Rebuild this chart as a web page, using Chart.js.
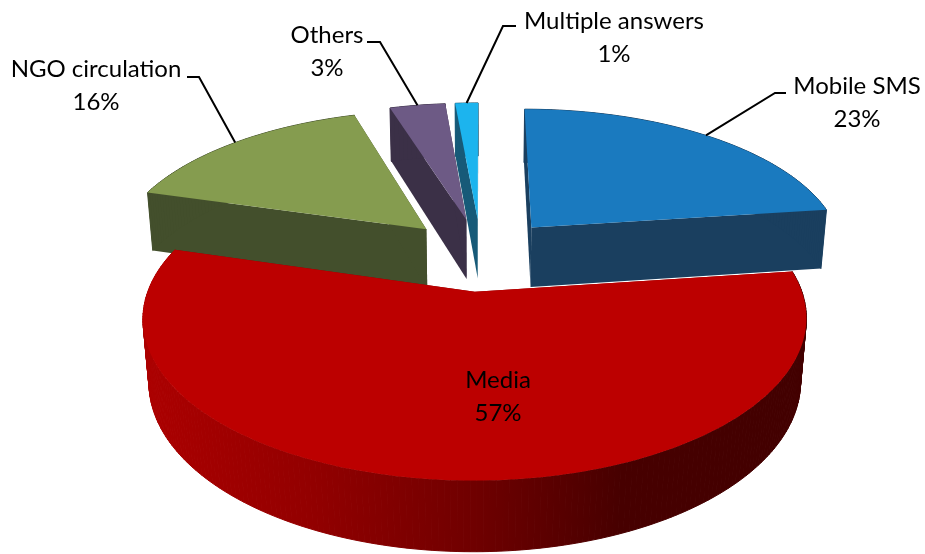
<!DOCTYPE html>
<html lang="en">
<head>
  <meta charset="UTF-8">
  <title>Pie chart</title>
  <script src="https://cdn.jsdelivr.net/npm/chart.js"></script>
  <style>
    body { margin: 0; background: #fff; }
    canvas { display: block; }
  </style>
</head>
<body>
  <canvas id="pie" width="925" height="554"></canvas>
  <script>
    // data
    const categories = ['Mobile SMS', 'Media', 'NGO circulation', 'Others', 'Multiple answers'];
    const shares = [22.9, 56.6, 15.7, 3.4, 1.4];
    const shareLabels = ['23%', '57%', '16%', '3%', '1%'];

    // styles
    const topColors = ['#1a7abf', '#bc0000', '#859c4f', '#6d5a85', '#1cb4ee'];
    const wallColors = ['#1a3f5f', '#8a0000', '#434f2c', '#3b3047', '#175a78'];
    const drawOrder = [0, 2, 3, 4, 1];

    // camera for the tilted pie: plane units are pie radii
    const cam = { cx: 481, cy: 254, a: 314, b: 145, k: 0.16, h: 62, m: 0.017 };

    // label centres and leader elbows
    const labelPos = [[857, 86], [498, 380], [96, 69], [327, 35], [614, 21]];
    const lineGap = 33;
    const leaders = [
      [[786, 93], [775, 93]],
      null,
      [[187, 77], [199, 77]],
      [[367, 42], [380, 42]],
      [[516, 26], [503, 26]]
    ];

    function project(X, Y, Z) {
      const w = 1 - cam.k * Y + cam.m * Z;
      return [cam.cx + cam.a * X / w, cam.cy + (cam.b * Y + cam.h * Z) / w];
    }

    function polygon(ctx, pts, fill) {
      ctx.beginPath();
      pts.forEach((p, i) => i ? ctx.lineTo(p[0], p[1]) : ctx.moveTo(p[0], p[1]));
      ctx.closePath();
      ctx.fillStyle = fill;
      ctx.fill();
    }

    // turn the arc the library laid out into plane coordinates
    function arcGeometry(arc) {
      const p = arc.getProps(['startAngle', 'endAngle', 'outerRadius'], true);
      const mid = (p.startAngle + p.endAngle) / 2;
      const d = (arc.options.offset / 4) / p.outerRadius;
      const ox = Math.cos(mid) * d;
      const oy = Math.sin(mid) * d;
      const rim = [];
      const steps = Math.max(4, Math.ceil((p.endAngle - p.startAngle) * 60));
      for (let i = 0; i <= steps; i++) {
        const t = p.startAngle + (p.endAngle - p.startAngle) * i / steps;
        rim.push([ox + Math.cos(t), oy + Math.sin(t)]);
      }
      return { ox, oy, rim, mid };
    }

    function mediaWall(ctx) {
      const g = ctx.createLinearGradient(143, 0, 807, 0);
      g.addColorStop(0, '#ac0000');
      g.addColorStop(0.25, '#930000');
      g.addColorStop(0.5, '#6f0000');
      g.addColorStop(0.72, '#470000');
      g.addColorStop(1, '#420000');
      return g;
    }

    const pie3d = {
      id: 'pie3d',
      beforeDatasetsDraw(chart) {
        const ctx = chart.ctx;
        const arcs = chart.getDatasetMeta(0).data;

        drawOrder.forEach(i => {
          const g = arcGeometry(arcs[i]);
          const first = g.rim[0];
          const last = g.rim[g.rim.length - 1];
          const wall = i === 1 ? mediaWall(ctx) : wallColors[i];

          // the two cut faces
          [first, last].forEach(e => {
            polygon(ctx, [project(g.ox, g.oy, 0), project(e[0], e[1], 0),
              project(e[0], e[1], 1), project(g.ox, g.oy, 1)], i === 1 ? '#8a0000' : wall);
          });
          // outer wall, strip by strip because it folds at the sides; stroked to hide seams
          ctx.strokeStyle = wall;
          ctx.lineWidth = 1;
          for (let s = 0; s < g.rim.length - 1; s++) {
            const a = g.rim[s], b = g.rim[s + 1];
            polygon(ctx, [project(a[0], a[1], 0), project(b[0], b[1], 0),
              project(b[0], b[1], 1), project(a[0], a[1], 1)], wall);
            ctx.stroke();
          }
          // top
          const upper = g.rim.map(r => project(r[0], r[1], 0));
          polygon(ctx, [project(g.ox, g.oy, 0)].concat(upper), topColors[i]);
        });

        // leader lines run from the middle of each rim
        ctx.strokeStyle = '#000';
        ctx.lineWidth = 2;
        arcs.forEach((arc, i) => {
          if (!leaders[i]) return;
          const g = arcGeometry(arc);
          const start = project(g.ox + Math.cos(g.mid), g.oy + Math.sin(g.mid), 0);
          ctx.beginPath();
          ctx.moveTo(leaders[i][0][0], leaders[i][0][1]);
          ctx.lineTo(leaders[i][1][0], leaders[i][1][1]);
          ctx.lineTo(start[0], start[1]);
          ctx.stroke();
        });

        ctx.fillStyle = '#000';
        ctx.font = '24px Lato';
        ctx.textAlign = 'center';
        ctx.textBaseline = 'middle';
        categories.forEach((name, i) => {
          ctx.fillText(name, labelPos[i][0], labelPos[i][1]);
          ctx.fillText(shareLabels[i], labelPos[i][0], labelPos[i][1] + lineGap);
        });
        return false;
      }
    };

    new Chart(document.getElementById('pie'), {
      type: 'pie',
      data: {
        labels: categories,
        datasets: [{
          data: shares,
          backgroundColor: topColors,
          borderWidth: 0,
          offset: 185
        }]
      },
      options: {
        responsive: false,
        animation: false,
        plugins: { legend: { display: false }, tooltip: { enabled: false } }
      },
      plugins: [pie3d]
    });
  </script>
</body>
</html>
